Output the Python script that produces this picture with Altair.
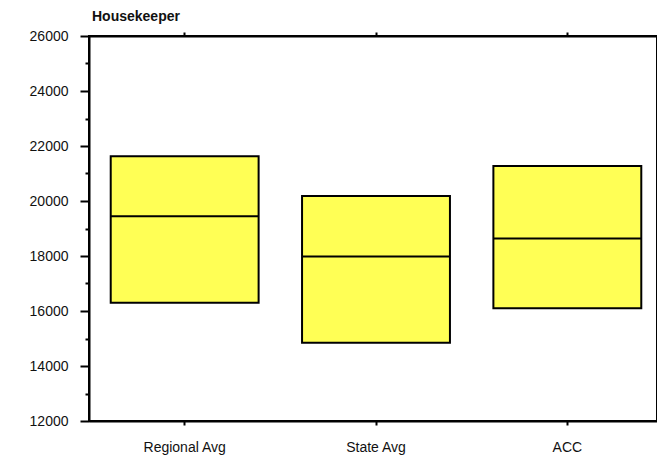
import altair as alt
import pandas as pd

categories = ["Regional Avg", "State Avg", "ACC"]
low = [16300, 14850, 16100]
median = [19450, 17980, 18640]
high = [21630, 20180, 21270]

major_ticks = list(range(12000, 26001, 2000))
minor_ticks = list(range(13000, 26000, 2000))

df = pd.DataFrame({"cat": categories, "low": low, "median": median, "high": high})

FONT = "Liberation Sans"
xscale = alt.Scale(domain=categories, paddingInner=0, paddingOuter=0, range=[0, 574])
yscale = alt.Scale(domain=[12000, 26000], nice=False, zero=False)

bars = alt.Chart(df).mark_bar(
    width=alt.RelativeBandSize(0.773), color="#FFFF55", stroke="black",
    strokeWidth=2, opacity=1
).encode(
    x=alt.X("cat:N", scale=xscale, sort=categories, title=None,
            axis=alt.Axis(orient="bottom", labelAngle=0, tickSize=4, tickWidth=2,
                          tickColor="black", domainColor="black", domainWidth=2,
                          labelFont=FONT, labelFontSize=14, labelColor="#111",
                          labelPadding=15)),
    y=alt.Y("low:Q", scale=yscale, title=None,
            axis=alt.Axis(orient="left", values=major_ticks, format="d",
                          tickSize=9, tickWidth=2, tickColor="black",
                          domainColor="black", domainWidth=2,
                          labelFont=FONT, labelFontSize=14, labelColor="#111",
                          labelPadding=12, grid=False)),
    y2="high:Q",
)

med = alt.Chart(df).mark_tick(color="black", thickness=2, size=148,
                              orient="horizontal", opacity=1).encode(
    x=alt.X("cat:N", scale=xscale, sort=categories, title=None,
            axis=alt.Axis(orient="top", labels=False, tickSize=4, tickWidth=2,
                          tickColor="black", domainColor="black", domainWidth=2)),
    y=alt.Y("median:Q", scale=yscale, title=None,
            axis=alt.Axis(orient="left", values=minor_ticks, labels=False,
                          tickSize=4, tickWidth=2, tickColor="black",
                          domain=False, grid=False)),
)

chart = alt.layer(bars, med).resolve_axis(x="independent", y="independent").properties(
    width=568, height=385,
    title=alt.TitleParams("Housekeeper", anchor="start", frame="group", font=FONT,
                          fontSize=14, fontWeight="bold", color="#111",
                          offset=5, dx=3),
    autosize=alt.AutoSizeParams(type="none"),
    padding={"left": 81, "top": 28, "right": 0, "bottom": 37},
).configure_view(stroke="black", strokeWidth=2).configure_axis(grid=False)

chart.save("out.html", embed_options={"renderer": "svg", "actions": False})
